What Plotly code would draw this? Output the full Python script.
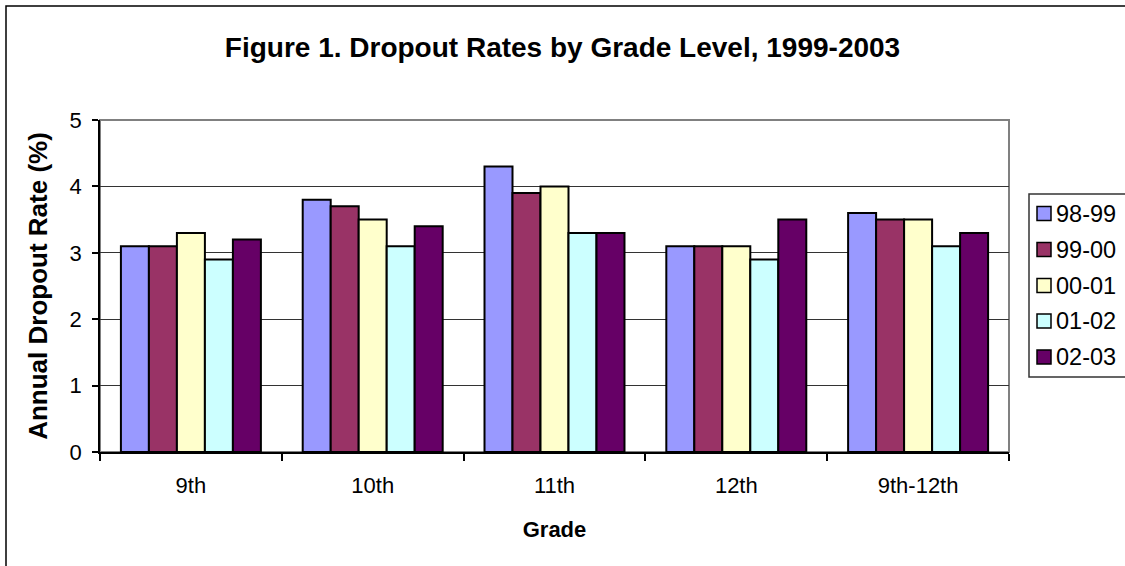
import plotly.graph_objects as go

grades = ["9th", "10th", "11th", "12th", "9th-12th"]
series_names = ["98-99", "99-00", "00-01", "01-02", "02-03"]
rates_98_99 = [3.1, 3.8, 4.3, 3.1, 3.6]
rates_99_00 = [3.1, 3.7, 3.9, 3.1, 3.5]
rates_00_01 = [3.3, 3.5, 4.0, 3.1, 3.5]
rates_01_02 = [2.9, 3.1, 3.3, 2.9, 3.1]
rates_02_03 = [3.2, 3.4, 3.3, 3.5, 3.3]
colors = ["#9999FF", "#993366", "#FFFFCC", "#CCFFFF", "#660066"]

all_series = [rates_98_99, rates_99_00, rates_00_01, rates_01_02, rates_02_03]

W, H = 1125, 566
L, R, T, B = 100, 1009, 120, 452

fig = go.Figure()
for name, vals, col in zip(series_names, all_series, colors):
    fig.add_trace(go.Bar(
        x=grades, y=vals, name=name, showlegend=False,
        marker=dict(color=col, line=dict(color="black", width=2)),
    ))

font_family = "Arial, Liberation Sans, sans-serif"

def px_x(p):
    return (p - L) / (R - L)

def px_y(p):
    return (B - p) / (B - T)

fig.update_layout(
    width=W, height=H,
    margin=dict(l=L, r=W - R, t=T, b=H - B, pad=0, autoexpand=False),
    paper_bgcolor="white", plot_bgcolor="white",
    font=dict(family=font_family, color="black", size=22),
    barmode="group", bargap=0.23, bargroupgap=0,
    title=dict(text="<b>Figure 1. Dropout Rates by Grade Level, 1999-2003</b>",
               x=0.5, xref="container", y=1 - 47 / H, yref="container",
               xanchor="center", yanchor="middle",
               font=dict(size=28, family=font_family, color="black")),
)
fig.update_xaxes(
    showline=True, linecolor="black", linewidth=1.5,
    ticks="outside", tickson="boundaries", ticklen=7, tickcolor="black", tickwidth=1.5,
    tickfont=dict(size=22), ticklabelstandoff=13,
    title=dict(text="<b>Grade</b>", font=dict(size=22), standoff=24),
    showgrid=False,
)
fig.update_yaxes(
    range=[0, 5], dtick=1, showline=True, linecolor="black", linewidth=1.5,
    ticks="outside", ticklen=6, tickcolor="black", tickwidth=1.5,
    tickfont=dict(size=22), ticklabelstandoff=6,
    showgrid=True, gridcolor="#333333", gridwidth=1,
    zeroline=False,
    title=dict(text="<b>Annual Dropout Rate (%)</b>", font=dict(size=26), standoff=14),
)
# plot-area border
fig.add_shape(type="rect", xref="paper", yref="paper", x0=0, x1=1, y0=0, y1=1,
              line=dict(color="#808080", width=2), layer="between")
# chart-area outer border
fig.add_shape(type="rect", xref="paper", yref="paper",
              x0=px_x(6), x1=px_x(1200), y0=px_y(640), y1=px_y(6),
              line=dict(color="black", width=1.5), layer="above")

# legend (Excel style box with square swatches)
fig.add_shape(type="rect", xref="paper", yref="paper",
              x0=px_x(1029), x1=px_x(1140), y0=px_y(377), y1=px_y(194),
              line=dict(color="#333333", width=1.5), fillcolor="white", layer="above")
item_y = [213.5, 249.5, 285.5, 321, 357]
for name, col, yc in zip(series_names, colors, item_y):
    fig.add_shape(type="rect", xref="paper", yref="paper",
                  x0=px_x(1037), x1=px_x(1051), y0=px_y(yc + 7), y1=px_y(yc - 7),
                  line=dict(color="black", width=1.5), fillcolor=col, layer="above")
    fig.add_annotation(xref="paper", yref="paper", x=px_x(1054), y=px_y(yc),
                       text=name, showarrow=False, xanchor="left", yanchor="middle",
                       font=dict(size=23.5, family=font_family, color="black"))

fig.write_html("out.html", config={"displayModeBar": False},
               post_script="document.body.style.margin='0';document.body.style.overflow='hidden';")
